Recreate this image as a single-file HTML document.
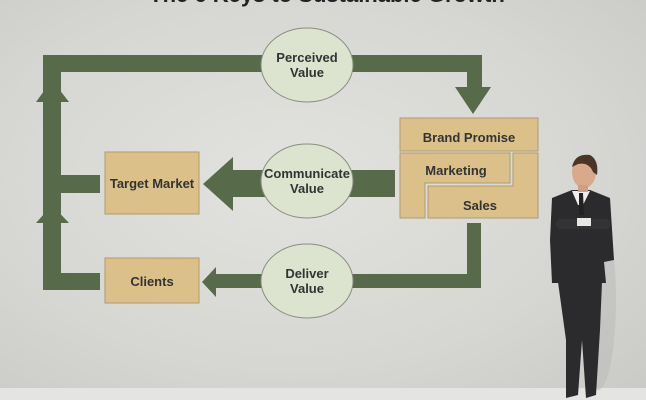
<!DOCTYPE html>
<html><head><style>
html,body{margin:0;padding:0}
body{width:646px;height:400px;overflow:hidden;background:radial-gradient(ellipse at 45% 45%,#e2e2df 0%,#d6d6d3 60%,#c9c9c6 100%);position:relative;font-family:"Liberation Sans",sans-serif}
.t{position:absolute;font-weight:bold;color:#333;font-size:13px;text-align:center;line-height:15px}
</style></head><body>
<svg width="646" height="400" style="position:absolute;left:0;top:0">
<rect x="0" y="388" width="646" height="12" fill="#e4e4e2"/>
<g fill="#576b4a">
<rect x="43" y="55" width="439" height="17"/>
<rect x="43" y="55" width="18" height="235"/>
<polygon points="36,102 52,80 69,102"/>
<polygon points="36,223 52,205 69,223"/>
<rect x="43" y="175" width="57" height="18"/>
<rect x="43" y="273" width="57" height="17"/>
<rect x="467" y="55" width="15" height="33"/>
<polygon points="455,87 491,87 473,114"/>
<rect x="233" y="170" width="162" height="27"/>
<polygon points="233,157 233,211 203,184"/>
<rect x="467" y="223" width="14" height="65"/>
<rect x="216" y="274" width="265" height="14"/>
<polygon points="216,267 216,297 202,282"/>
</g>
<g fill="#dce4d0" stroke="#8b8d82" stroke-width="1">
<ellipse cx="307" cy="65" rx="46" ry="37"/>
<ellipse cx="307" cy="181" rx="46" ry="37"/>
<ellipse cx="307" cy="281" rx="46" ry="37"/>
</g>
<g fill="#dcc08a" stroke="#b09a6c" stroke-width="1">
<rect x="105" y="152" width="94" height="62"/>
<rect x="105" y="258" width="94" height="45"/>
<rect x="400" y="118" width="138" height="33"/>
<polygon points="400,153 510,153 510,183 425,183 425,218 400,218"/>
<polygon points="513,153 538,153 538,218 428,218 428,186 513,186"/>
</g>
<ellipse cx="598" cy="300" rx="18" ry="90" fill="#bdbdba" opacity="0.6"/>
<g fill="#2b2b2d">
<polygon points="558,282 602,282 600,330 596,395 586,398 582,340 578,395 566,398 566,340"/>
<path d="M552,198 L572,190 L590,190 L610,198 L614,260 L604,262 L606,283 L552,283 L550,240 Z"/>
</g>
<polygon points="572,191 590,191 583,205 578,205" fill="#eee"/>
<polygon points="579,193 583,193 584,215 579,215" fill="#222"/>
<rect x="556" y="219" width="54" height="10" rx="4" fill="#333"/>
<rect x="577" y="218" width="14" height="8" fill="#e7e7e5"/>
<ellipse cx="584" cy="172" rx="12" ry="16" fill="#d9a98c"/>
<path d="M572,167 Q575,153 590,155 Q599,160 597,175 L593,172 Q589,162 578,164 Z" fill="#4a3526"/>
<rect x="578" y="185" width="10" height="7" fill="#cf9f84"/>
</svg>
<div class="t" style="left:120px;top:-16px;width:414px;font-size:22px;line-height:22px;color:#222">The 6 Keys to Sustainable Growth</div>
<div class="t" style="left:261px;top:50px;width:92px">Perceived<br>Value</div>
<div class="t" style="left:255px;top:166px;width:104px">Communicate<br>Value</div>
<div class="t" style="left:261px;top:266px;width:92px">Deliver<br>Value</div>
<div class="t" style="left:105px;top:176px;width:94px">Target Market</div>
<div class="t" style="left:105px;top:274px;width:94px">Clients</div>
<div class="t" style="left:400px;top:130px;width:138px">Brand Promise</div>
<div class="t" style="left:410px;top:163px;width:92px">Marketing</div>
<div class="t" style="left:440px;top:198px;width:80px">Sales</div>
</body></html>
